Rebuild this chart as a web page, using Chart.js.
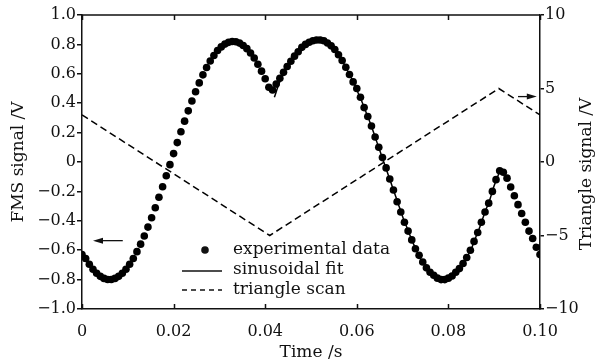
<!DOCTYPE html>
<html>
<head>
<meta charset="utf-8">
<script src="https://cdn.jsdelivr.net/npm/chart.js@4.4.0/dist/chart.umd.min.js"></script>
<style>
html, body { margin: 0; padding: 0; background: #fff; }
</style>
</head>
<body>
<canvas id="chart" width="604" height="363"></canvas>
<script>
// sample times (ms) and FMS signal (V)
var timeMs = [0,0.8,1.6,2.4,3.2,4.0,4.8,5.6,6.4,7.2,8.0,8.8,9.6,10.4,11.2,12.0,
  12.8,13.6,14.4,15.2,16.0,16.8,17.6,18.4,19.2,20.0,20.8,21.6,22.4,23.2,24.0,
  24.8,25.6,26.4,27.2,28.0,28.8,29.6,30.4,31.2,32.0,32.8,33.6,34.4,35.2,36.0,
  36.8,37.6,38.4,39.2,40.0,40.8,41.6,42.4,43.2,44.0,44.8,45.6,46.4,47.2,48.0,
  48.8,49.6,50.4,51.2,52.0,52.8,53.6,54.4,55.2,56.0,56.8,57.6,58.4,59.2,60.0,
  60.8,61.6,62.4,63.2,64.0,64.8,65.6,66.4,67.2,68.0,68.8,69.6,70.4,71.2,72.0,
  72.8,73.6,74.4,75.2,76.0,76.8,77.6,78.4,79.2,80.0,80.8,81.6,82.4,83.2,84.0,
  84.8,85.6,86.4,87.2,88.0,88.8,89.6,90.4,91.2,92.0,92.8,93.6,94.4,95.2,96.0,
  96.8,97.6,98.4,99.2,100.0];
var fmsSignal = [-0.63,-0.656,-0.696,-0.730,-0.757,-0.778,-0.792,-0.799,-0.799,-0.792,-0.778,
  -0.757,-0.730,-0.696,-0.656,-0.610,-0.559,-0.503,-0.443,-0.379,-0.311,
  -0.240,-0.168,-0.094,-0.018,0.057,0.132,0.206,0.278,0.348,0.415,
  0.478,0.538,0.593,0.643,0.687,0.725,0.758,0.783,0.802,0.814,
  0.820,0.818,0.809,0.793,0.771,0.742,0.707,0.665,0.618,0.566,
  0.509,0.49,0.53,0.57,0.61,0.65,0.685,0.72,0.75,0.78,
  0.80,0.815,0.825,0.83,0.83,0.825,0.81,0.79,0.765,0.73,
  0.69,0.645,0.595,0.545,0.50,0.44,0.37,0.31,0.245,0.17,
  0.10,0.03,-0.04,-0.116,-0.19,-0.27,-0.34,-0.41,-0.47,-0.53,
  -0.59,-0.635,-0.68,-0.72,-0.75,-0.77,-0.79,-0.80,-0.80,-0.79,
  -0.775,-0.75,-0.725,-0.69,-0.65,-0.60,-0.54,-0.48,-0.41,-0.34,
  -0.28,-0.20,-0.12,-0.06,-0.07,-0.11,-0.17,-0.23,-0.29,-0.35,
  -0.41,-0.47,-0.52,-0.58,-0.63];

// sinusoidal fit over the backward scan
var fitTimeMs = [42,43,44,45,46,47,48,49,50,51,52,53,54,55,56,57,58,59,60,
  61,62,63,64,65,66,67,68,69,70,71,72,73,74,75,76,77,78,79,80,
  81,82,83,84,85,86,87,88,89,90,91];
var fitSignal = [0.44,0.53,0.60,0.66,0.71,0.75,0.78,0.81,0.82,0.83,0.83,0.82,0.80,
  0.77,0.73,0.68,0.62,0.56,0.49,0.42,0.34,0.26,0.17,0.08,-0.01,
  -0.10,-0.19,-0.28,-0.37,-0.45,-0.53,-0.60,-0.66,-0.71,-0.75,
  -0.78,-0.79,-0.80,-0.79,-0.77,-0.74,-0.70,-0.65,-0.59,-0.51,
  -0.43,-0.34,-0.26,-0.16,-0.08];

// triangle scan (right axis)
var scanTime = [0, 0.041, 0.091, 0.1];
var scanVoltage = [3.2, -5, 5, 3.2];

var xTicks = [0, 0.02, 0.04, 0.06, 0.08, 0.10];
var leftTicks = [-1.0, -0.8, -0.6, -0.4, -0.2, 0, 0.2, 0.4, 0.6, 0.8, 1.0];
var rightTicks = [-10, -5, 0, 5, 10];

// arrows pointing to each curve's axis
var leftArrow = { x: [0.0089, 0.0024], y: -0.535 };
var rightArrow = { x: [0.0952, 0.0993], y: 4.45 };

var serif = "'DejaVu Serif', serif";
var ink = "#111";

function minus(s) { return s.replace("-", "\u2212"); }

function pts(xs, ys, scale) {
  return xs.map(function (x, i) { return { x: x * scale, y: ys[i] }; });
}

function arrow(ctx, x0, y, x1) {
  var dir = x1 > x0 ? 1 : -1;
  ctx.beginPath();
  ctx.moveTo(x0, y);
  ctx.lineTo(x1 - dir * 6, y);
  ctx.stroke();
  ctx.beginPath();
  ctx.moveTo(x1, y);
  ctx.lineTo(x1 - dir * 10, y - 3);
  ctx.lineTo(x1 - dir * 10, y + 3);
  ctx.closePath();
  ctx.fill();
}

var extras = {
  id: "extras",
  afterDraw: function (chart) {
    var ctx = chart.ctx, ca = chart.chartArea;
    var xs = chart.scales.x, y = chart.scales.y, y2 = chart.scales.y2;
    ctx.save();
    ctx.strokeStyle = ink;
    ctx.fillStyle = ink;
    ctx.lineWidth = 1.5;

    // top border and inward x ticks
    ctx.beginPath();
    ctx.moveTo(ca.left, ca.top);
    ctx.lineTo(ca.right, ca.top);
    xTicks.forEach(function (v) {
      var px = Math.round(xs.getPixelForValue(v)) + 0.5;
      ctx.moveTo(px, ca.bottom);
      ctx.lineTo(px, ca.bottom - 5);
      ctx.moveTo(px, ca.top);
      ctx.lineTo(px, ca.top + 5);
    });
    ctx.stroke();

    // arrows
    ctx.lineWidth = 1.3;
    arrow(ctx, xs.getPixelForValue(leftArrow.x[0]), y.getPixelForValue(leftArrow.y), xs.getPixelForValue(leftArrow.x[1]));
    arrow(ctx, xs.getPixelForValue(rightArrow.x[0]), y2.getPixelForValue(rightArrow.y), xs.getPixelForValue(rightArrow.x[1]));

    // legend
    var ds = chart.data.datasets;
    var lx = ca.left + 100, tx = ca.left + 151, ly = ca.top + 235;
    ctx.font = "17px " + serif;
    ctx.textBaseline = "middle";
    ctx.textAlign = "left";
    ctx.beginPath();
    ctx.arc(lx + 23, ly, 3.8, 0, Math.PI * 2);
    ctx.fill();
    ctx.fillText(ds[0].label, tx, ly);
    ctx.lineWidth = 1.5;
    ctx.beginPath();
    ctx.moveTo(lx, ly + 21);
    ctx.lineTo(lx + 40, ly + 21);
    ctx.stroke();
    ctx.fillText(ds[1].label, tx, ly + 20);
    ctx.setLineDash([5, 4]);
    ctx.beginPath();
    ctx.moveTo(lx, ly + 40);
    ctx.lineTo(lx + 40, ly + 40);
    ctx.stroke();
    ctx.setLineDash([]);
    ctx.fillText(ds[2].label, tx, ly + 40);

    // right axis title, reading bottom to top
    ctx.translate(587, (ca.top + ca.bottom) / 2 + 12);
    ctx.rotate(-Math.PI / 2);
    ctx.textAlign = "center";
    ctx.fillText("Triangle signal /V", 0, 0);
    ctx.restore();
  }
};

new Chart(document.getElementById("chart"), {
  type: "line",
  data: {
    datasets: [
      {
        label: "experimental data",
        data: pts(timeMs, fmsSignal, 0.001),
        yAxisID: "y",
        showLine: false,
        pointRadius: 3.8,
        pointBackgroundColor: "#000",
        pointBorderWidth: 0
      },
      {
        label: "sinusoidal fit",
        data: pts(fitTimeMs, fitSignal, 0.001),
        yAxisID: "y",
        borderColor: "#000",
        borderWidth: 1.5,
        tension: 0.3,
        pointRadius: 0
      },
      {
        label: "triangle scan",
        data: pts(scanTime, scanVoltage, 1),
        yAxisID: "y2",
        borderColor: "#000",
        borderWidth: 1.5,
        borderDash: [7, 4],
        pointRadius: 0
      }
    ]
  },
  options: {
    responsive: false,
    animation: false,
    layout: { padding: { top: 15, left: 0, right: 0, bottom: 0 } },
    plugins: { legend: { display: false }, tooltip: { enabled: false } },
    scales: {
      x: {
        type: "linear",
        min: 0,
        max: 0.1,
        afterBuildTicks: function (s) { s.ticks = xTicks.map(function (v) { return { value: v }; }); },
        afterFit: function (s) { s.height = 54; },
        grid: { display: false },
        border: { display: true, color: ink, width: 1.5 },
        ticks: {
          padding: 5,
          color: ink,
          font: { family: serif, size: 16 },
          maxRotation: 0,
          callback: function (v) { return v === 0 ? "0" : v.toFixed(2); }
        },
        title: { display: true, text: "Time /s", color: ink, font: { family: serif, size: 17 }, padding: { top: 0, bottom: 0 } }
      },
      y: {
        position: "left",
        min: -1,
        max: 1,
        afterBuildTicks: function (s) { s.ticks = leftTicks.map(function (v) { return { value: v }; }); },
        afterFit: function (s) { s.width = 82; },
        grid: { drawOnChartArea: false, tickLength: 5, color: ink, lineWidth: 1.5 },
        border: { display: true, color: ink, width: 1.5 },
        ticks: {
          padding: 1,
          color: ink,
          font: { family: serif, size: 16 },
          callback: function (v) { return v === 0 ? "0" : minus(v.toFixed(1)); }
        },
        title: { display: true, text: "FMS signal /V", color: ink, font: { family: serif, size: 17 }, padding: { top: 8, bottom: 0 } }
      },
      y2: {
        position: "right",
        min: -10,
        max: 10,
        afterBuildTicks: function (s) { s.ticks = rightTicks.map(function (v) { return { value: v }; }); },
        afterFit: function (s) { s.width = 64; },
        grid: { drawOnChartArea: false, tickLength: 4, color: ink, lineWidth: 1.5 },
        border: { display: true, color: ink, width: 1.5 },
        ticks: {
          padding: 1,
          color: ink,
          font: { family: serif, size: 16 },
          callback: function (v) { return minus(String(v)); }
        }
      }
    }
  },
  plugins: [extras]
});
</script>
</body>
</html>
